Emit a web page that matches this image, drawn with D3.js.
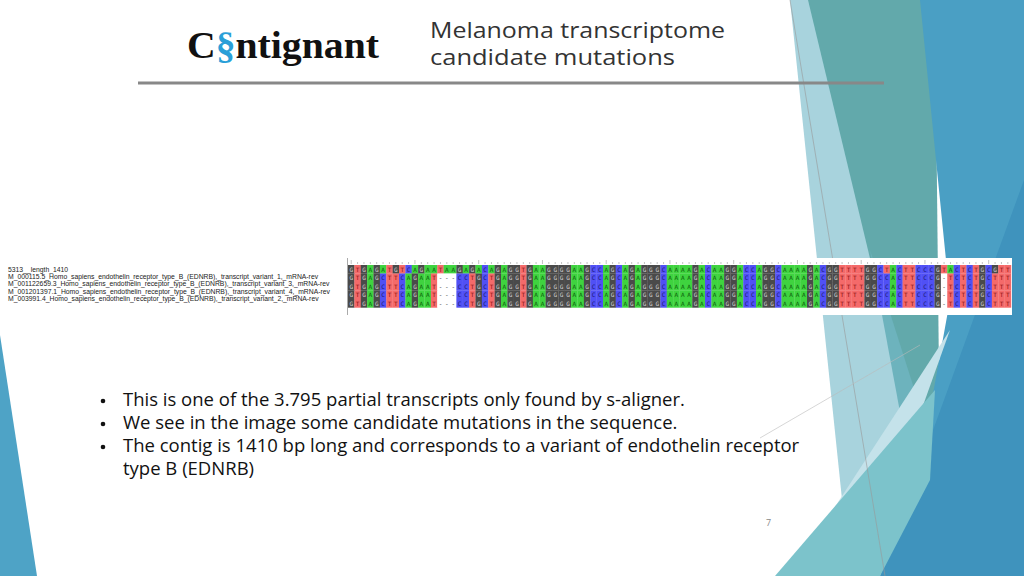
<!DOCTYPE html>
<html><head><meta charset="utf-8">
<script src="https://cdnjs.cloudflare.com/ajax/libs/d3/7.8.5/d3.min.js"></script>
<style>body{margin:0;background:#fff}svg{display:block}</style>
</head><body>
<script>
// Alignment data
var seqNames = [
  "5313__length_1410",
  "M_000115.5_Homo_sapiens_endothelin_receptor_type_B_(EDNRB),_transcript_variant_1,_mRNA-rev",
  "M_001122659.3_Homo_sapiens_endothelin_receptor_type_B_(EDNRB),_transcript_variant_3,_mRNA-rev",
  "M_001201397.1_Homo_sapiens_endothelin_receptor_type_B_(EDNRB),_transcript_variant_4,_mRNA-rev",
  "M_003991.4_Homo_sapiens_endothelin_receptor_type_B_(EDNRB),_transcript_variant_2,_mRNA-rev"
];
var contigSeq = "GTGAGATGTCAGAATAAGAGACAGAGGTGAAGGGGAAGCCAGCAGAGGGCAA" +
                "AAGACAAGGACCAGGCAAAAGACGGTTTTGGCTACTTCCCGTACTCTGCGTT";
var refSeq    = "GTGAGCTTCAGAAT---CCTGCTGAGGTGAAGGGGAAGCCAGCAGAGGGCAA" +
                "AAGACAAGGACCAGGCAAAAGACGGTTTTGGCCACTTCCCG-TCTCTGCTTT";
var sequences = [contigSeq, refSeq, refSeq, refSeq, refSeq];
var bases = ["A", "C", "G", "T", "-"];
var bulletLines = [
  ["This is one of the 3.795 partial transcripts only found by s-aligner."],
  ["We see in the image some candidate mutations in the sequence."],
  ["The contig is 1410 bp long and corresponds to a variant of endothelin receptor", "type B (EDNRB)"]
];

var W = 1024, H = 576;
var svg = d3.select("body").append("svg").attr("width", W).attr("height", H);

// Background facets
var facets = [
  {c:"#a8d3dd", p:[[790,0],[840,0],[960,576],[850,576]]},
  {c:"#62a9ab", p:[[808,0],[935,0],[940,470],[880,300]]},
  {c:"#4a9fc4", p:[[920,0],[1024,0],[1024,576],[900,576],[950,300]]},
  {c:"#6db3bd", p:[[870,250],[940,470],[920,520]]},
  {c:"#3f93bd", p:[[1024,180],[1024,576],[880,576]]},
  {c:"#c4e2ea", p:[[790,576],[950,330],[900,470],[850,576]]},
  {c:"#7cc3cb", p:[[775,576],[935,390],[930,480],[880,576]]},
  {c:"#4ea3c6", p:[[0,335],[37,576],[0,576]]}
];
svg.selectAll("polygon.facet").data(facets).join("polygon")
  .attr("class", "facet")
  .attr("points", function(d){ return d.p.join(" "); })
  .attr("fill", function(d){ return d.c; });
svg.append("line").attr("x1",790).attr("y1",0).attr("x2",885).attr("y2",576)
  .attr("stroke","#999").attr("stroke-width",0.6);
svg.append("line").attr("x1",760).attr("y1",438).attr("x2",920).attr("y2",345)
  .attr("stroke","#bbb").attr("stroke-width",0.6);

// Header
var logo = svg.append("text").attr("x",187).attr("y",58)
  .attr("font-family","Liberation Serif").attr("font-weight","bold")
  .attr("font-size",38).attr("fill","#111")
  .attr("textLength",192).attr("lengthAdjust","spacingAndGlyphs");
logo.append("tspan").text("C");
logo.append("tspan").attr("fill","#2a9fd8").text("\u00a7");
logo.append("tspan").text("ntignant");
svg.append("text").attr("x",430).attr("y",38).attr("font-family","Open Sans")
  .attr("font-size",21.5).attr("fill","#333")
  .attr("textLength",295).attr("lengthAdjust","spacingAndGlyphs").text("Melanoma transcriptome");
svg.append("text").attr("x",430).attr("y",65).attr("font-family","Open Sans")
  .attr("font-size",21.5).attr("fill","#333")
  .attr("textLength",245).attr("lengthAdjust","spacingAndGlyphs").text("candidate mutations");
svg.append("line").attr("x1",138).attr("x2",884).attr("y1",83).attr("y2",83)
  .attr("stroke","#888").attr("stroke-width",3);

// Alignment panels
var top0 = 258, rowH = 8.5, rowTop = 265;
svg.append("rect").attr("x",0).attr("y",top0).attr("width",347).attr("height",57).attr("fill","#fff");
svg.append("rect").attr("x",347).attr("y",top0).attr("width",665).attr("height",57).attr("fill","#fff");
svg.append("line").attr("x1",347.5).attr("x2",347.5).attr("y1",top0).attr("y2",top0+57)
  .attr("stroke","#aaa");

svg.selectAll("text.name").data(seqNames).join("text")
  .attr("class","name").attr("x",8)
  .attr("y",function(d,i){ return 272 + i*7.2; })
  .attr("font-family","Liberation Sans").attr("font-size",6.8).attr("fill","#222")
  .text(function(d){ return d; });

var nCol = contigSeq.length;
var x = d3.scaleBand().domain(d3.range(nCol)).range([348,1011]);
var y = d3.scaleBand().domain(d3.range(sequences.length)).range([rowTop, rowTop + rowH*sequences.length]);
var fill = d3.scaleOrdinal().domain(bases).range(["#3fd33f","#5050f5","#4a4a4a","#f46a6a","#ffffff"]);
var ink = d3.scaleOrdinal().domain(bases).range(["#0a5a0a","#1a1a70","#cfcfcf","#8a1010","#333"]);

// ruler ticks
svg.selectAll("line.tick").data(d3.range(nCol)).join("line")
  .attr("class","tick")
  .attr("x1",function(i){ return x(i)+x.bandwidth()/2; })
  .attr("x2",function(i){ return x(i)+x.bandwidth()/2; })
  .attr("y1",function(i){ return i%10==0 ? 260 : 262; }).attr("y2",264)
  .attr("stroke","#999").attr("stroke-width",0.6);

var cells = [];
sequences.forEach(function(s, r){ s.split("").forEach(function(b, c){ cells.push({r:r,c:c,b:b}); }); });
svg.selectAll("rect.cell").data(cells).join("rect")
  .attr("class","cell")
  .attr("x",function(d){ return x(d.c); }).attr("y",function(d){ return y(d.r); })
  .attr("width",x.bandwidth()+0.2).attr("height",y.bandwidth()+0.2)
  .attr("fill",function(d){ return fill(d.b); });
svg.selectAll("text.base").data(cells).join("text")
  .attr("class","base")
  .attr("x",function(d){ return x(d.c)+x.bandwidth()/2; })
  .attr("y",function(d){ return y(d.r)+y.bandwidth()-2; })
  .attr("text-anchor","middle").attr("font-family","DejaVu Sans Mono")
  .attr("font-size",6).attr("fill",function(d){ return ink(d.b); })
  .text(function(d){ return d.b; });

// Bullets
var by = 406;
bulletLines.forEach(function(lines){
  svg.append("circle").attr("cx",103).attr("cy",by-5).attr("r",2.3).attr("fill","#111");
  lines.forEach(function(l){
    svg.append("text").attr("x",123).attr("y",by).attr("font-family","Open Sans")
      .attr("font-size",18.5).attr("fill","#111").text(l);
    by += 23;
  });
});
svg.append("text").attr("x",766).attr("y",526).attr("font-family","Open Sans")
  .attr("font-size",9).attr("fill","#888").text("7");
</script>
</body></html>
